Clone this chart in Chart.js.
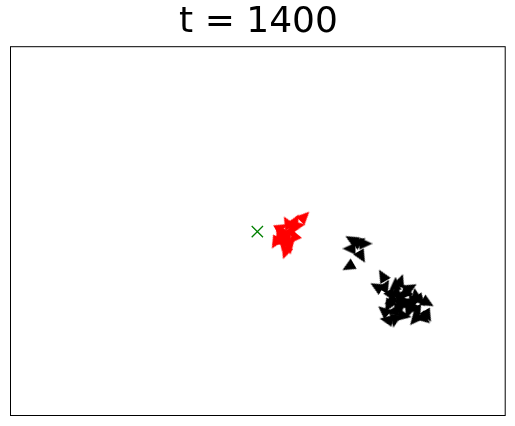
<!DOCTYPE html>
<html>
<head>
<meta charset="utf-8">
<script src="https://cdn.jsdelivr.net/npm/chart.js@4.4.1/dist/chart.umd.min.js"></script>
<style>
  body { margin: 0; background: #fff; }
  #wrap { width: 515px; height: 426px; }
</style>
</head>
<body>
<div id="wrap"><canvas id="myChart" width="515" height="426"></canvas></div>
<script>
// positions in plot units (x: 0..495, y: 0..369)
var redX = [294, 285, 277, 271, 281, 269, 276, 283, 265, 273, 279, 275, 268, 288, 272, 278];
var redY = [199, 195, 193, 188, 186, 182, 179, 177, 173, 171, 168, 163, 177, 190, 181, 174];
var redAngle = [45, 30, -30, 60, 20, 200, 160, 220, 210, 190, 170, 200, 0, 80, -20, 150];

var blackX = [341, 349, 355, 339, 351, 338,
              372, 366, 375, 385, 390, 395, 400, 381, 388, 394, 402, 410, 417,
              378, 389, 399, 407, 414, 376, 384, 394, 404, 382, 391, 397, 417, 373,
              386, 392, 398, 405, 380];
var blackY = [176, 174, 172, 167, 159, 149,
              140, 129, 130, 132, 135, 125, 128, 120, 117, 115, 117, 115, 113,
              110, 106, 108, 104, 97, 96, 95, 100, 96, 104, 121, 111, 100, 105,
              125, 111, 104, 121, 115];
var blackAngle = [-60, 60, 90, -90, 150, -120,
                  -30, -60, 30, 0, 20, -20, 60, 150, 200, 90, -40, 140, 120,
                  210, 180, -150, 160, 130, -80, 190, 100, 220, -100, 40, 170, 150, -50,
                  10, 120, 200, -10, 240];

var goalX = [247];
var goalY = [184];

function pts(xs, ys) {
    return xs.map(function(x, i){ return {x: x, y: ys[i]}; });
}

// narrow triangle marker pointing up (rotated per point by chart.js)
function wedge(color) {
    var c = document.createElement('canvas');
    c.width = 14; c.height = 14;
    var g = c.getContext('2d');
    g.fillStyle = color;
    g.beginPath();
    g.moveTo(7, 0);
    g.lineTo(13, 13);
    g.lineTo(1, 13);
    g.closePath();
    g.fill();
    return c;
}

// frame around the plot area
var frame = {
    id: 'frame',
    afterDraw: function(chart) {
        var a = chart.chartArea, c = chart.ctx;
        c.save();
        c.strokeStyle = '#000';
        c.lineWidth = 1;
        c.strokeRect(a.left + 0.5, a.top + 0.5, a.right - a.left - 1, a.bottom - a.top - 1);
        c.restore();
    }
};

var ctx = document.getElementById('myChart').getContext('2d');
var chart = new Chart(ctx, {
    type: 'scatter',
    data: {
        datasets: [{
            label: 'red',
            data: pts(redX, redY),
            pointStyle: wedge('#ff0000'),
            rotation: redAngle,
            radius: 7
        }, {
            label: 'black',
            data: pts(blackX, blackY),
            pointStyle: wedge('#000000'),
            rotation: blackAngle,
            radius: 7
        }, {
            label: 'goal',
            data: pts(goalX, goalY),
            pointStyle: 'crossRot',
            radius: 8,
            borderColor: '#008000',
            borderWidth: 1.3
        }]
    },
    options: {
        responsive: false,
        animation: false,
        layout: { padding: { left: 10, right: 8, bottom: 10 } },
        scales: {
            x: { display: false, min: 0, max: 495 },
            y: { display: false, min: 0, max: 369 }
        },
        plugins: {
            legend: { display: false },
            tooltip: { enabled: false },
            title: {
                display: true,
                text: 't = 1400',
                color: '#000',
                font: { family: 'DejaVu Sans', size: 36, weight: 'normal' },
                padding: { top: 1, bottom: 2 }
            }
        }
    },
    plugins: [frame]
});
</script>
</body>
</html>
